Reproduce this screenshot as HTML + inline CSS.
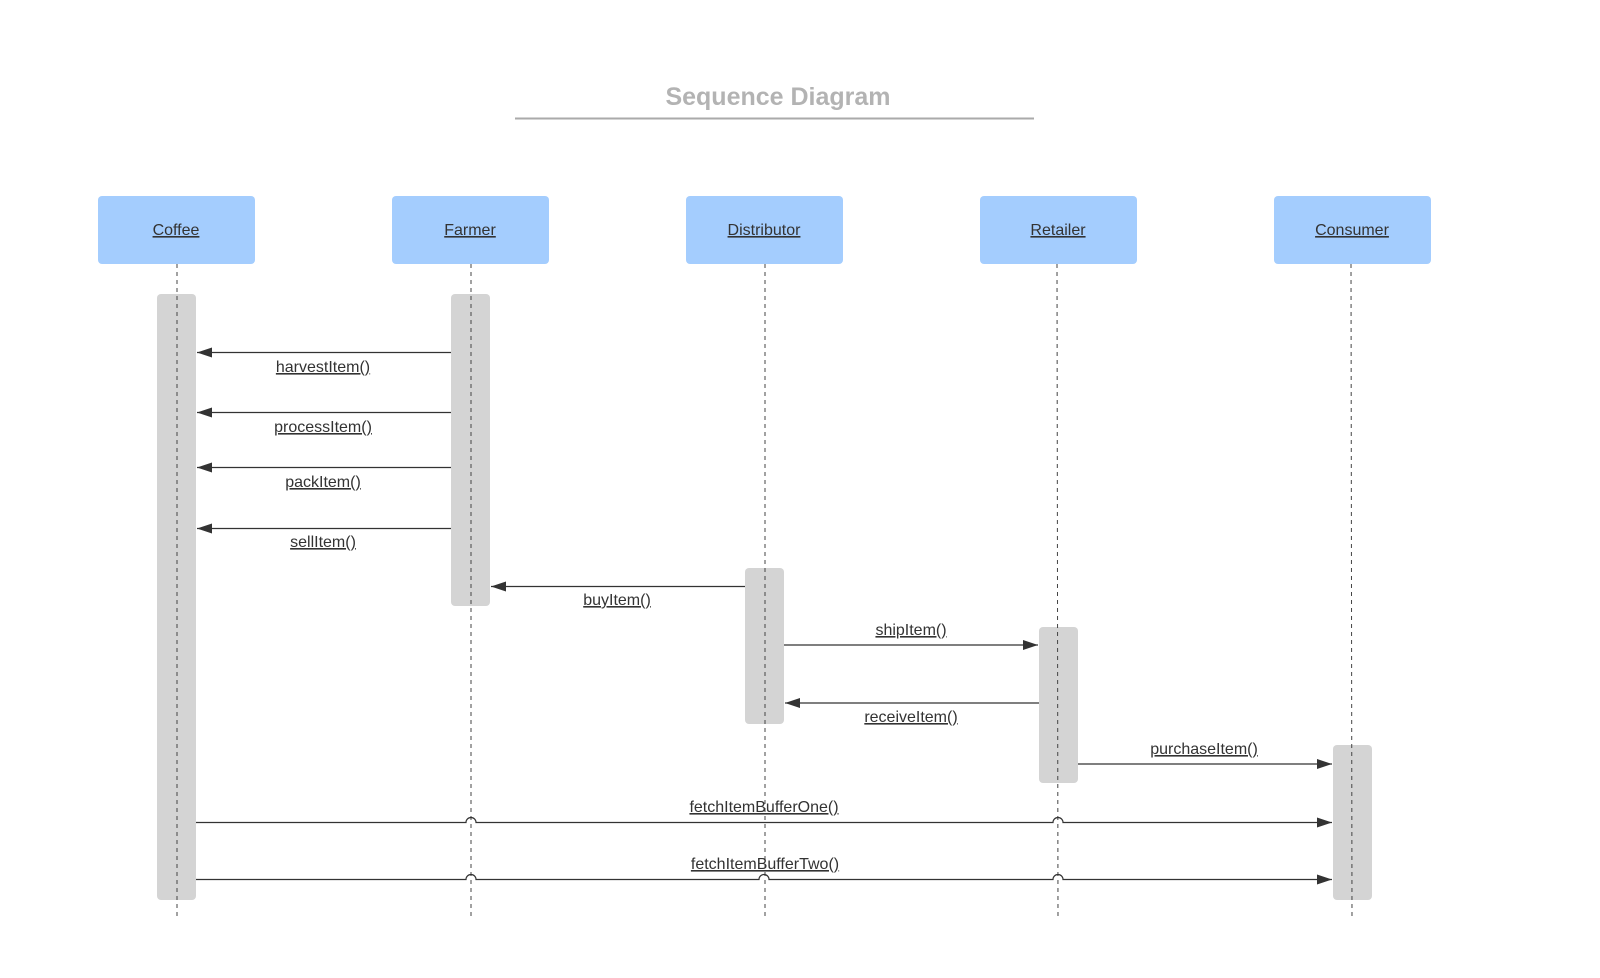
<!DOCTYPE html>
<html><head><meta charset="utf-8"><style>
html,body{margin:0;padding:0;background:#fff;width:1600px;height:978px;overflow:hidden}
svg text{font-family:"Liberation Sans",sans-serif}
.l{font-size:16px;fill:#333;text-decoration:underline;text-anchor:middle}
</style></head><body>
<svg width="1600" height="978" xmlns="http://www.w3.org/2000/svg">
<defs><marker id="a" markerWidth="16" markerHeight="12" refX="15" refY="5" orient="auto" markerUnits="userSpaceOnUse"><path d="M0,0 L15,5 L0,10 z" fill="#333"/></marker></defs>
<text x="778" y="105" text-anchor="middle" font-size="25" font-weight="bold" fill="#b3b3b3">Sequence Diagram</text>
<line x1="515" y1="118.5" x2="1034" y2="118.5" stroke="#aaa" stroke-width="2"/>
<g fill="#a4cdfe">
<rect x="98" y="196" width="157" height="68" rx="4"/>
<rect x="392" y="196" width="157" height="68" rx="4"/>
<rect x="686" y="196" width="157" height="68" rx="4"/>
<rect x="980" y="196" width="157" height="68" rx="4"/>
<rect x="1274" y="196" width="157" height="68" rx="4"/>
</g>
<text class="l" x="176" y="235">Coffee</text>
<text class="l" x="470" y="235">Farmer</text>
<text class="l" x="764" y="235">Distributor</text>
<text class="l" x="1058" y="235">Retailer</text>
<text class="l" x="1352" y="235">Consumer</text>
<g fill="#d4d4d4">
<rect x="157" y="294" width="39" height="606" rx="4"/>
<rect x="451" y="294" width="39" height="312" rx="4"/>
<rect x="745" y="568" width="39" height="156" rx="4"/>
<rect x="1039" y="627" width="39" height="156" rx="4"/>
<rect x="1333" y="745" width="39" height="155" rx="4"/>
</g>
<g stroke="#444" stroke-width="1" stroke-dasharray="4,4">
<line x1="177" y1="264" x2="177" y2="920"/>
<line x1="471" y1="264" x2="471" y2="920"/>
<line x1="765" y1="264" x2="765" y2="920"/>
<line x1="1057" y1="264" x2="1058" y2="920"/>
<line x1="1351" y1="264" x2="1352" y2="920"/>
</g>
<g stroke="#333" stroke-width="1.2" fill="none" marker-end="url(#a)">
<line x1="451" y1="352.5" x2="197" y2="352.5"/>
<line x1="451" y1="412.5" x2="197" y2="412.5"/>
<line x1="451" y1="467.5" x2="197" y2="467.5"/>
<line x1="451" y1="528.5" x2="197" y2="528.5"/>
<line x1="745" y1="586.5" x2="491" y2="586.5"/>
<line x1="784" y1="645" x2="1038" y2="645"/>
<line x1="1039" y1="703" x2="785" y2="703"/>
<line x1="1078" y1="764" x2="1332" y2="764"/>
<path d="M196,822.5 H466 a5,5 0 0 1 10,0 H1053 a5,5 0 0 1 10,0 H1332"/>
<path d="M196,879.5 H466 a5,5 0 0 1 10,0 H759 a5,5 0 0 1 10,0 H1053 a5,5 0 0 1 10,0 H1332"/>
</g>
<text class="l" x="323" y="372">harvestItem()</text>
<text class="l" x="323" y="432">processItem()</text>
<text class="l" x="323" y="487">packItem()</text>
<text class="l" x="323" y="547">sellItem()</text>
<text class="l" x="617" y="605">buyItem()</text>
<text class="l" x="911" y="635">shipItem()</text>
<text class="l" x="911" y="722">receiveItem()</text>
<text class="l" x="1204" y="754">purchaseItem()</text>
<text class="l" x="764" y="812">fetchItemBufferOne()</text>
<text class="l" x="765" y="869">fetchItemBufferTwo()</text>
</svg>
</body></html>
